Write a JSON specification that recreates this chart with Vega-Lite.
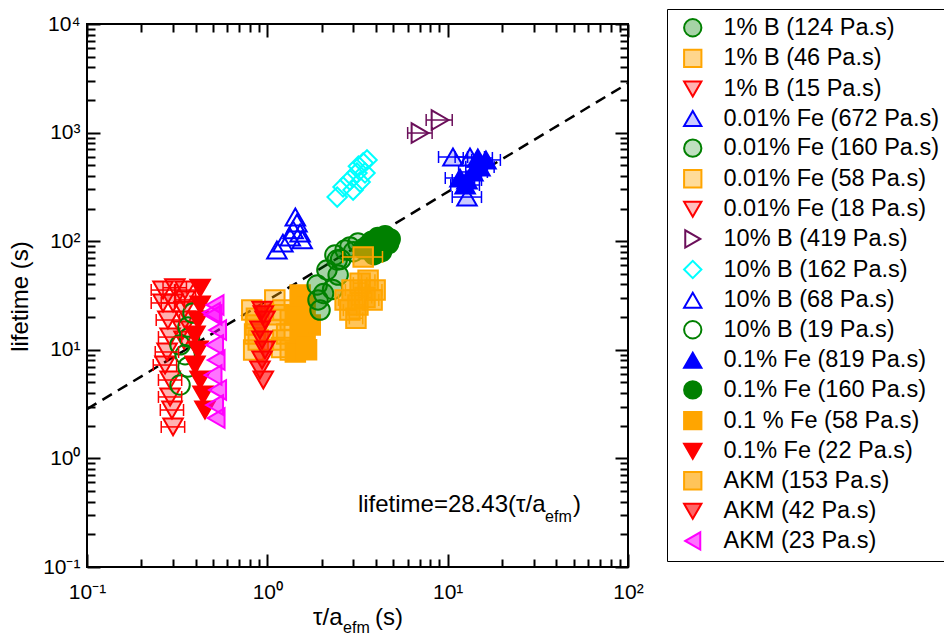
{
  "$schema": "https://vega.github.io/schema/vega-lite/v6.json",
  "width": 541,
  "height": 543,
  "autosize": {"type": "none"},
  "padding": {"left": 87, "top": 24, "right": 316, "bottom": 72},
  "background": "white",
  "config": {
    "font": "Liberation Sans",
    "view": {"stroke": "black", "strokeWidth": 2},
    "axis": {"labelFont": "Liberation Sans", "titleFont": "Liberation Sans"}
  },
  "datasets": {
    "pts": [
      {"s": "1% B (46 Pa.s)", "x": 0.82, "y": 23.2},
      {"s": "1% B (46 Pa.s)", "x": 0.86, "y": 16.9},
      {"s": "1% B (46 Pa.s)", "x": 0.89, "y": 12.3},
      {"s": "1% B (46 Pa.s)", "x": 0.84, "y": 9.95},
      {"s": "1% B (46 Pa.s)", "x": 0.87, "y": 19.5},
      {"s": "1% B (46 Pa.s)", "x": 0.85, "y": 14},
      {"s": "0.01% Fe (58 Pa.s)", "x": 1.10, "y": 28.8},
      {"s": "0.01% Fe (58 Pa.s)", "x": 1.22, "y": 23.2},
      {"s": "0.01% Fe (58 Pa.s)", "x": 1.34, "y": 18.8},
      {"s": "0.01% Fe (58 Pa.s)", "x": 1.10, "y": 15.2},
      {"s": "0.01% Fe (58 Pa.s)", "x": 1.22, "y": 12.3},
      {"s": "0.01% Fe (58 Pa.s)", "x": 1.34, "y": 9.95},
      {"s": "0.01% Fe (58 Pa.s)", "x": 1.15, "y": 21},
      {"s": "0.01% Fe (58 Pa.s)", "x": 1.28, "y": 14},
      {"s": "0.01% Fe (58 Pa.s)", "x": 1.2, "y": 10.5},
      {"s": "0.1 % Fe (58 Pa.s)", "x": 1.52, "y": 32},
      {"s": "0.1 % Fe (58 Pa.s)", "x": 1.62, "y": 25.9},
      {"s": "0.1 % Fe (58 Pa.s)", "x": 1.43, "y": 20.9},
      {"s": "0.1 % Fe (58 Pa.s)", "x": 1.73, "y": 16.9},
      {"s": "0.1 % Fe (58 Pa.s)", "x": 1.52, "y": 13.7},
      {"s": "0.1 % Fe (58 Pa.s)", "x": 1.62, "y": 11.1},
      {"s": "0.1 % Fe (58 Pa.s)", "x": 1.43, "y": 9.55},
      {"s": "0.1 % Fe (58 Pa.s)", "x": 1.55, "y": 18.5},
      {"s": "0.1 % Fe (58 Pa.s)", "x": 1.65, "y": 10},
      {"s": "AKM (42 Pa.s)", "x": 0.935, "y": 23.2},
      {"s": "AKM (42 Pa.s)", "x": 0.971, "y": 18.8},
      {"s": "AKM (42 Pa.s)", "x": 0.91, "y": 15.2},
      {"s": "AKM (42 Pa.s)", "x": 0.935, "y": 12.3},
      {"s": "AKM (42 Pa.s)", "x": 0.971, "y": 9.95},
      {"s": "AKM (42 Pa.s)", "x": 0.935, "y": 8.05},
      {"s": "AKM (42 Pa.s)", "x": 0.91, "y": 6.52},
      {"s": "AKM (42 Pa.s)", "x": 0.95, "y": 5.27},
      {"s": "AKM (42 Pa.s)", "x": 0.95, "y": 21},
      {"s": "1% B (124 Pa.s)", "x": 1.89, "y": 39.5},
      {"s": "1% B (124 Pa.s)", "x": 2.14, "y": 54.3},
      {"s": "1% B (124 Pa.s)", "x": 1.91, "y": 28.8},
      {"s": "1% B (124 Pa.s)", "x": 1.96, "y": 23.2},
      {"s": "1% B (124 Pa.s)", "x": 2.47, "y": 48.8},
      {"s": "1% B (124 Pa.s)", "x": 2.44, "y": 67.1},
      {"s": "1% B (124 Pa.s)", "x": 2.3, "y": 36},
      {"s": "1% B (124 Pa.s)", "x": 2.05, "y": 33},
      {"s": "0.01% Fe (160 Pa.s)", "x": 2.37, "y": 74.6},
      {"s": "0.01% Fe (160 Pa.s)", "x": 2.70, "y": 83},
      {"s": "0.01% Fe (160 Pa.s)", "x": 2.87, "y": 88.4},
      {"s": "0.01% Fe (160 Pa.s)", "x": 3.18, "y": 96.3},
      {"s": "0.01% Fe (160 Pa.s)", "x": 2.55, "y": 68},
      {"s": "0.01% Fe (160 Pa.s)", "x": 3.0, "y": 80},
      {"s": "0.1% Fe (160 Pa.s)", "x": 3.62, "y": 92},
      {"s": "0.1% Fe (160 Pa.s)", "x": 3.4, "y": 85},
      {"s": "0.1% Fe (160 Pa.s)", "x": 3.8, "y": 100},
      {"s": "0.1% Fe (160 Pa.s)", "x": 4.1, "y": 108},
      {"s": "0.1% Fe (160 Pa.s)", "x": 4.5, "y": 112},
      {"s": "0.1% Fe (160 Pa.s)", "x": 4.0, "y": 90},
      {"s": "0.1% Fe (160 Pa.s)", "x": 4.7, "y": 95},
      {"s": "0.1% Fe (160 Pa.s)", "x": 3.9, "y": 75},
      {"s": "0.1% Fe (160 Pa.s)", "x": 4.3, "y": 80},
      {"s": "0.1% Fe (160 Pa.s)", "x": 4.8, "y": 105},
      {"s": "AKM (153 Pa.s)", "x": 2.70, "y": 28.8, "xlo": 2.48, "xhi": 2.94},
      {"s": "AKM (153 Pa.s)", "x": 2.95, "y": 35.5, "xlo": 2.71, "xhi": 3.22},
      {"s": "AKM (153 Pa.s)", "x": 3.27, "y": 41.1, "xlo": 3.0, "xhi": 3.56},
      {"s": "AKM (153 Pa.s)", "x": 3.62, "y": 43.8, "xlo": 3.33, "xhi": 3.95},
      {"s": "AKM (153 Pa.s)", "x": 3.96, "y": 35.5, "xlo": 3.64, "xhi": 4.32},
      {"s": "AKM (153 Pa.s)", "x": 2.87, "y": 23.2, "xlo": 2.64, "xhi": 3.13},
      {"s": "AKM (153 Pa.s)", "x": 3.18, "y": 25.9, "xlo": 2.93, "xhi": 3.47},
      {"s": "AKM (153 Pa.s)", "x": 3.48, "y": 30.3, "xlo": 3.2, "xhi": 3.79},
      {"s": "AKM (153 Pa.s)", "x": 3.81, "y": 28.8, "xlo": 3.5, "xhi": 4.15},
      {"s": "AKM (153 Pa.s)", "x": 3.40, "y": 71.6, "xlo": 2.62, "xhi": 4.35},
      {"s": "AKM (153 Pa.s)", "x": 3.1, "y": 19.5, "xlo": 2.85, "xhi": 3.38},
      {"s": "1% B (15 Pa.s)", "x": 0.264, "y": 35.5, "xlo": 0.227, "xhi": 0.306},
      {"s": "1% B (15 Pa.s)", "x": 0.307, "y": 37.3, "xlo": 0.264, "xhi": 0.356},
      {"s": "1% B (15 Pa.s)", "x": 0.264, "y": 27.0, "xlo": 0.227, "xhi": 0.306},
      {"s": "1% B (15 Pa.s)", "x": 0.300, "y": 27.0, "xlo": 0.258, "xhi": 0.348},
      {"s": "1% B (15 Pa.s)", "x": 0.281, "y": 18.8, "xlo": 0.242, "xhi": 0.326},
      {"s": "1% B (15 Pa.s)", "x": 0.289, "y": 13.1, "xlo": 0.249, "xhi": 0.335},
      {"s": "1% B (15 Pa.s)", "x": 0.278, "y": 9.55, "xlo": 0.239, "xhi": 0.322},
      {"s": "1% B (15 Pa.s)", "x": 0.271, "y": 7.24, "xlo": 0.233, "xhi": 0.314},
      {"s": "1% B (15 Pa.s)", "x": 0.289, "y": 5.27, "xlo": 0.249, "xhi": 0.335},
      {"s": "1% B (15 Pa.s)", "x": 0.289, "y": 3.68, "xlo": 0.249, "xhi": 0.335},
      {"s": "1% B (15 Pa.s)", "x": 0.296, "y": 2.79, "xlo": 0.255, "xhi": 0.343},
      {"s": "1% B (15 Pa.s)", "x": 0.300, "y": 1.95, "xlo": 0.258, "xhi": 0.348},
      {"s": "0.01% Fe (18 Pa.s)", "x": 0.35, "y": 35.5, "xlo": 0.31, "xhi": 0.40},
      {"s": "0.01% Fe (18 Pa.s)", "x": 0.35, "y": 28.8, "xlo": 0.31, "xhi": 0.40},
      {"s": "0.01% Fe (18 Pa.s)", "x": 0.345, "y": 23.2},
      {"s": "0.01% Fe (18 Pa.s)", "x": 0.35, "y": 18.8},
      {"s": "0.01% Fe (18 Pa.s)", "x": 0.34, "y": 15.2},
      {"s": "0.01% Fe (18 Pa.s)", "x": 0.345, "y": 12.3},
      {"s": "10% B (19 Pa.s)", "x": 0.328, "y": 11.1},
      {"s": "10% B (19 Pa.s)", "x": 0.328, "y": 4.74},
      {"s": "10% B (19 Pa.s)", "x": 0.363, "y": 16.2},
      {"s": "10% B (19 Pa.s)", "x": 0.387, "y": 21.8},
      {"s": "10% B (19 Pa.s)", "x": 0.363, "y": 6.95},
      {"s": "10% B (19 Pa.s)", "x": 0.35, "y": 9},
      {"s": "10% B (19 Pa.s)", "x": 0.37, "y": 13},
      {"s": "0.1% Fe (22 Pa.s)", "x": 0.424, "y": 37},
      {"s": "0.1% Fe (22 Pa.s)", "x": 0.424, "y": 25.9},
      {"s": "0.1% Fe (22 Pa.s)", "x": 0.413, "y": 18.8},
      {"s": "0.1% Fe (22 Pa.s)", "x": 0.397, "y": 13.7},
      {"s": "0.1% Fe (22 Pa.s)", "x": 0.413, "y": 9.95},
      {"s": "0.1% Fe (22 Pa.s)", "x": 0.397, "y": 7.24},
      {"s": "0.1% Fe (22 Pa.s)", "x": 0.424, "y": 5.27},
      {"s": "0.1% Fe (22 Pa.s)", "x": 0.44, "y": 3.84},
      {"s": "0.1% Fe (22 Pa.s)", "x": 0.451, "y": 2.79},
      {"s": "AKM (23 Pa.s)", "x": 0.513, "y": 25.9},
      {"s": "AKM (23 Pa.s)", "x": 0.50, "y": 20.9},
      {"s": "AKM (23 Pa.s)", "x": 0.53, "y": 15.2},
      {"s": "AKM (23 Pa.s)", "x": 0.51, "y": 11.1},
      {"s": "AKM (23 Pa.s)", "x": 0.52, "y": 8.05},
      {"s": "AKM (23 Pa.s)", "x": 0.50, "y": 5.86},
      {"s": "AKM (23 Pa.s)", "x": 0.53, "y": 4.27},
      {"s": "AKM (23 Pa.s)", "x": 0.51, "y": 3.10},
      {"s": "AKM (23 Pa.s)", "x": 0.52, "y": 2.35},
      {"s": "AKM (23 Pa.s)", "x": 0.49, "y": 22},
      {"s": "10% B (68 Pa.s)", "x": 1.13, "y": 83},
      {"s": "10% B (68 Pa.s)", "x": 1.22, "y": 96},
      {"s": "10% B (68 Pa.s)", "x": 1.34, "y": 109},
      {"s": "10% B (68 Pa.s)", "x": 1.39, "y": 127},
      {"s": "10% B (68 Pa.s)", "x": 1.46, "y": 147},
      {"s": "10% B (68 Pa.s)", "x": 1.43, "y": 167},
      {"s": "10% B (68 Pa.s)", "x": 1.52, "y": 119},
      {"s": "10% B (68 Pa.s)", "x": 1.56, "y": 103},
      {"s": "10% B (162 Pa.s)", "x": 2.44, "y": 255},
      {"s": "10% B (162 Pa.s)", "x": 2.63, "y": 316},
      {"s": "10% B (162 Pa.s)", "x": 2.87, "y": 366},
      {"s": "10% B (162 Pa.s)", "x": 3.14, "y": 425},
      {"s": "10% B (162 Pa.s)", "x": 3.40, "y": 525},
      {"s": "10% B (162 Pa.s)", "x": 3.57, "y": 560},
      {"s": "10% B (162 Pa.s)", "x": 2.99, "y": 296},
      {"s": "10% B (162 Pa.s)", "x": 3.27, "y": 351},
      {"s": "10% B (162 Pa.s)", "x": 3.48, "y": 425},
      {"s": "10% B (162 Pa.s)", "x": 3.2, "y": 490},
      {"s": "10% B (419 Pa.s)", "x": 7.03, "y": 991, "xlo": 6.0, "xhi": 8.2},
      {"s": "10% B (419 Pa.s)", "x": 9.08, "y": 1306, "xlo": 7.6, "xhi": 10.6},
      {"s": "0.01% Fe (672 Pa.s)", "x": 10.7, "y": 596, "xlo": 8.9, "xhi": 12.9},
      {"s": "0.01% Fe (672 Pa.s)", "x": 13.3, "y": 596, "xlo": 11.0, "xhi": 16.0},
      {"s": "0.01% Fe (672 Pa.s)", "x": 12.8, "y": 255, "xlo": 10.6, "xhi": 15.4},
      {"s": "0.1% Fe (819 Pa.s)", "x": 11.7, "y": 382, "xlo": 9.7, "xhi": 14.1},
      {"s": "0.1% Fe (819 Pa.s)", "x": 12.8, "y": 366, "xlo": 10.6, "xhi": 15.4},
      {"s": "0.1% Fe (819 Pa.s)", "x": 13.8, "y": 434, "xlo": 11.5, "xhi": 16.6},
      {"s": "0.1% Fe (819 Pa.s)", "x": 15.1, "y": 482, "xlo": 12.6, "xhi": 18.1},
      {"s": "0.1% Fe (819 Pa.s)", "x": 16.3, "y": 560, "xlo": 13.6, "xhi": 19.6},
      {"s": "0.1% Fe (819 Pa.s)", "x": 14.7, "y": 584, "xlo": 12.2, "xhi": 17.7},
      {"s": "0.1% Fe (819 Pa.s)", "x": 12.5, "y": 329, "xlo": 10.4, "xhi": 15.0}
    ],
    "fit": [
      {"x": 0.1, "y": 2.843},
      {"x": 100, "y": 2843}
    ]
  },
  "resolve": {"axis": {"x": "independent", "y": "independent"}},
  "layer": [
    {
      "data": {"name": "fit"},
      "mark": {"type": "line", "color": "black", "strokeWidth": 2.5, "strokeDash": [11, 7]},
      "encoding": {
        "x": {"field": "x", "type": "quantitative",
          "scale": {"type": "log", "domain": [0.1, 100], "nice": false},
          "axis": {"orient": "top", "values": [0.1,0.2,0.3,0.4,0.5,0.6,0.7,0.8,0.9,1,2,3,4,5,6,7,8,9,10,20,30,40,50,60,70,80,90,100],
            "domain": false, "grid": false, "labels": false, "title": null, "tickColor": "black", "tickWidth": 2,
            "tickSize": {"condition": {"test": "abs(log(datum.value)/LN10 - round(log(datum.value)/LN10)) < 0.001", "value": -13}, "value": -8}}},
        "y": {"field": "y", "type": "quantitative",
          "scale": {"type": "log", "domain": [0.1, 10000], "nice": false},
          "axis": {"orient": "right", "values": [0.1,0.2,0.3,0.4,0.5,0.6,0.7,0.8,0.9,1,2,3,4,5,6,7,8,9,10,20,30,40,50,60,70,80,90,100,200,300,400,500,600,700,800,900,1000,2000,3000,4000,5000,6000,7000,8000,9000,10000],
            "domain": false, "grid": false, "labels": false, "title": null, "tickColor": "black", "tickWidth": 2,
            "tickSize": {"condition": {"test": "abs(log(datum.value)/LN10 - round(log(datum.value)/LN10)) < 0.001", "value": -13}, "value": -8}}}
      }
    },
    {
      "data": {"name": "pts"},
      "mark": {"type": "point", "size": 380, "strokeWidth": 2, "opacity": 1},
      "encoding": {
        "x": {"field": "x", "type": "quantitative",
          "scale": {"type": "log", "domain": [0.1, 100], "nice": false},
          "axis": {"orient": "bottom", "values": [0.1,0.2,0.3,0.4,0.5,0.6,0.7,0.8,0.9,1,2,3,4,5,6,7,8,9,10,20,30,40,50,60,70,80,90,100],
            "domain": false, "grid": false, "title": null, "tickColor": "black", "tickWidth": 2,
            "tickSize": {"condition": {"test": "abs(log(datum.value)/LN10 - round(log(datum.value)/LN10)) < 0.001", "value": -13}, "value": -8},
            "labelExpr": "abs(log(datum.value)/LN10 - round(log(datum.value)/LN10)) > 0.001 ? '' : '10' + ['⁻¹','⁰','¹','²','³','⁴'][round(log(datum.value)/LN10) + 1]",
            "labelFontSize": 21, "labelColor": "black", "labelPadding": 27, "labelOverlap": false, "labelFlush": false, "labelBound": false}},
        "y": {"field": "y", "type": "quantitative",
          "scale": {"type": "log", "domain": [0.1, 10000], "nice": false},
          "axis": {"orient": "left", "values": [0.1,0.2,0.3,0.4,0.5,0.6,0.7,0.8,0.9,1,2,3,4,5,6,7,8,9,10,20,30,40,50,60,70,80,90,100,200,300,400,500,600,700,800,900,1000,2000,3000,4000,5000,6000,7000,8000,9000,10000],
            "domain": false, "grid": false, "tickColor": "black", "tickWidth": 2,
            "tickSize": {"condition": {"test": "abs(log(datum.value)/LN10 - round(log(datum.value)/LN10)) < 0.001", "value": -13}, "value": -8},
            "labelExpr": "abs(log(datum.value)/LN10 - round(log(datum.value)/LN10)) > 0.001 ? '' : '10' + ['⁻¹','⁰','¹','²','³','⁴'][round(log(datum.value)/LN10) + 1]",
            "labelFontSize": 21, "labelColor": "black", "labelPadding": 20, "labelOverlap": false, "labelFlush": false, "labelBound": false,
            "labelAlign": "right", "labelBaseline": "middle",
            "title": "lifetime (s)", "titleFontSize": 24, "titleFontWeight": "normal", "titleColor": "black",
            "titleX": -79, "titleY": 272, "titleBaseline": "top", "titleAngle": 270}},
        "shape": {"field": "s", "type": "nominal",
          "scale": {"domain": ["1% B (124 Pa.s)","1% B (46 Pa.s)","1% B (15 Pa.s)","0.01% Fe (672 Pa.s)","0.01% Fe (160 Pa.s)","0.01% Fe (58 Pa.s)","0.01% Fe (18 Pa.s)","10% B (419 Pa.s)","10% B (162 Pa.s)","10% B (68 Pa.s)","10% B (19 Pa.s)","0.1% Fe (819 Pa.s)","0.1% Fe (160 Pa.s)","0.1 % Fe (58 Pa.s)","0.1% Fe (22 Pa.s)","AKM (153 Pa.s)","AKM (42 Pa.s)","AKM (23 Pa.s)"],
            "range": ["circle","square","triangle-down","triangle-up","circle","square","triangle-down","triangle-right","diamond","triangle-up","circle","triangle-up","circle","square","triangle-down","square","triangle-down","triangle-left"]},
          "legend": {"title": null, "orient": "none", "legendX": 580, "legendY": -15, "direction": "vertical",
            "padding": 7, "symbolOffset": 7, "fillColor": "white", "strokeColor": "black",
            "labelFont": "Liberation Sans", "labelFontSize": 23.5, "labelColor": "black", "labelLimit": 400,
            "symbolSize": 300, "symbolStrokeWidth": 2, "rowPadding": 4.6, "labelOffset": 19,
            "encode": {"legend": {"update": {"strokeWidth": {"value": 2}}}}}},
        "fill": {"field": "s", "type": "nominal",
          "scale": {"domain": ["1% B (124 Pa.s)","1% B (46 Pa.s)","1% B (15 Pa.s)","0.01% Fe (672 Pa.s)","0.01% Fe (160 Pa.s)","0.01% Fe (58 Pa.s)","0.01% Fe (18 Pa.s)","10% B (419 Pa.s)","10% B (162 Pa.s)","10% B (68 Pa.s)","10% B (19 Pa.s)","0.1% Fe (819 Pa.s)","0.1% Fe (160 Pa.s)","0.1 % Fe (58 Pa.s)","0.1% Fe (22 Pa.s)","AKM (153 Pa.s)","AKM (42 Pa.s)","AKM (23 Pa.s)"],
            "range": ["rgba(0,128,0,0.35)","rgba(255,165,0,0.45)","rgba(255,0,0,0.3)","rgba(0,0,255,0.2)","rgba(0,128,0,0.25)","rgba(255,165,0,0.4)","rgba(255,0,0,0.25)","rgba(255,255,255,0)","rgba(255,255,255,0)","rgba(255,255,255,0)","rgba(255,255,255,0)","#0000ff","#008000","#ffa500","#ff0000","rgba(255,165,0,0.65)","rgba(255,0,0,0.6)","rgba(255,0,255,0.55)"]}},
        "stroke": {"field": "s", "type": "nominal",
          "scale": {"domain": ["1% B (124 Pa.s)","1% B (46 Pa.s)","1% B (15 Pa.s)","0.01% Fe (672 Pa.s)","0.01% Fe (160 Pa.s)","0.01% Fe (58 Pa.s)","0.01% Fe (18 Pa.s)","10% B (419 Pa.s)","10% B (162 Pa.s)","10% B (68 Pa.s)","10% B (19 Pa.s)","0.1% Fe (819 Pa.s)","0.1% Fe (160 Pa.s)","0.1 % Fe (58 Pa.s)","0.1% Fe (22 Pa.s)","AKM (153 Pa.s)","AKM (42 Pa.s)","AKM (23 Pa.s)"],
            "range": ["#008000","#ffa500","#ff0000","#0000ff","#008000","#ffa500","#ff0000","#6b0f5a","#00ffff","#0000ff","#008000","#0000ff","#008000","#ffa500","#ff0000","#ffa500","#ff0000","#ff00ff"]}}
      }
    },
    {
      "data": {"name": "pts"},
      "transform": [{"filter": "isValid(datum.xlo)"}],
      "mark": {"type": "rule", "strokeWidth": 1.5},
      "encoding": {
        "x": {"field": "xlo", "type": "quantitative", "scale": {"type": "log", "domain": [0.1, 100], "nice": false}, "axis": null},
        "x2": {"field": "xhi"},
        "y": {"field": "y", "type": "quantitative", "scale": {"type": "log", "domain": [0.1, 10000], "nice": false}, "axis": null},
        "stroke": {"field": "s", "type": "nominal"}
      }
    },
    {
      "data": {"name": "pts"},
      "transform": [{"filter": "isValid(datum.xlo)"}],
      "mark": {"type": "rule", "strokeWidth": 1.5, "yOffset": -6, "y2Offset": 6},
      "encoding": {
        "x": {"field": "xlo", "type": "quantitative", "scale": {"type": "log", "domain": [0.1, 100], "nice": false}, "axis": null},
        "y": {"field": "y", "type": "quantitative", "scale": {"type": "log", "domain": [0.1, 10000], "nice": false}, "axis": null},
        "y2": {"field": "y"},
        "stroke": {"field": "s", "type": "nominal"}
      }
    },
    {
      "data": {"name": "pts"},
      "transform": [{"filter": "isValid(datum.xhi)"}],
      "mark": {"type": "rule", "strokeWidth": 1.5, "yOffset": -6, "y2Offset": 6},
      "encoding": {
        "x": {"field": "xhi", "type": "quantitative", "scale": {"type": "log", "domain": [0.1, 100], "nice": false}, "axis": null},
        "y": {"field": "y", "type": "quantitative", "scale": {"type": "log", "domain": [0.1, 10000], "nice": false}, "axis": null},
        "y2": {"field": "y"},
        "stroke": {"field": "s", "type": "nominal"}
      }
    },
    {
      "data": {"values": [{}]},
      "mark": {"type": "text", "text": "lifetime=28.43(τ/a", "align": "left", "baseline": "alphabetic", "fontSize": 24, "font": "Liberation Sans", "color": "black"},
      "encoding": {
        "x": {"datum": 3.18, "type": "quantitative", "scale": {"type": "log", "domain": [0.1, 100], "nice": false}, "axis": null},
        "y": {"datum": 0.321, "type": "quantitative", "scale": {"type": "log", "domain": [0.1, 10000], "nice": false}, "axis": null}
      }
    },
    {
      "data": {"values": [{}]},
      "mark": {"type": "text", "text": "efm", "align": "left", "baseline": "alphabetic", "fontSize": 16, "font": "Liberation Sans", "color": "black"},
      "encoding": {
        "x": {"datum": 34.7, "type": "quantitative", "scale": {"type": "log", "domain": [0.1, 100], "nice": false}, "axis": null},
        "y": {"datum": 0.26, "type": "quantitative", "scale": {"type": "log", "domain": [0.1, 10000], "nice": false}, "axis": null}
      }
    },
    {
      "data": {"values": [{}]},
      "mark": {"type": "text", "text": ")", "align": "left", "baseline": "alphabetic", "fontSize": 24, "font": "Liberation Sans", "color": "black"},
      "encoding": {
        "x": {"datum": 49.6, "type": "quantitative", "scale": {"type": "log", "domain": [0.1, 100], "nice": false}, "axis": null},
        "y": {"datum": 0.321, "type": "quantitative", "scale": {"type": "log", "domain": [0.1, 10000], "nice": false}, "axis": null}
      }
    },
    {
      "data": {"values": [{}]},
      "mark": {"type": "text", "text": "τ/a", "align": "left", "baseline": "alphabetic", "dy": 58, "fontSize": 24, "font": "Liberation Sans", "color": "black"},
      "encoding": {
        "x": {"datum": 1.793, "type": "quantitative", "scale": {"type": "log", "domain": [0.1, 100], "nice": false}, "axis": null},
        "y": {"datum": 0.1, "type": "quantitative", "scale": {"type": "log", "domain": [0.1, 10000], "nice": false}, "axis": null}
      }
    },
    {
      "data": {"values": [{}]},
      "mark": {"type": "text", "text": "efm", "align": "left", "baseline": "alphabetic", "dy": 66, "fontSize": 16, "font": "Liberation Sans", "color": "black"},
      "encoding": {
        "x": {"datum": 2.63, "type": "quantitative", "scale": {"type": "log", "domain": [0.1, 100], "nice": false}, "axis": null},
        "y": {"datum": 0.1, "type": "quantitative", "scale": {"type": "log", "domain": [0.1, 10000], "nice": false}, "axis": null}
      }
    },
    {
      "data": {"values": [{}]},
      "mark": {"type": "text", "text": "(s)", "align": "left", "baseline": "alphabetic", "dy": 58, "fontSize": 24, "font": "Liberation Sans", "color": "black"},
      "encoding": {
        "x": {"datum": 3.95, "type": "quantitative", "scale": {"type": "log", "domain": [0.1, 100], "nice": false}, "axis": null},
        "y": {"datum": 0.1, "type": "quantitative", "scale": {"type": "log", "domain": [0.1, 10000], "nice": false}, "axis": null}
      }
    }
  ]
}
